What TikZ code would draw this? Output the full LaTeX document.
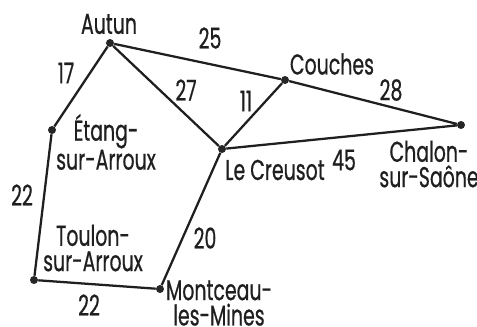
\documentclass[tikz,border=0pt]{standalone}
\usepackage{fontspec}
\setmainfont[FakeStretch=0.66,FakeBold=0.6]{Poppins}
\begin{document}
\begin{tikzpicture}[x=0.75pt,y=-0.75pt,
  road/.style={line width=1.7pt,draw=black!88},
  town/.style={circle,fill=black!85,inner sep=0pt,minimum size=6pt},
  lbl/.style={inner sep=0pt,align=center,font=\fontsize{21.5}{19}\selectfont,text=black!88},
  dist/.style={inner sep=0pt,font=\fontsize{21.5}{19}\selectfont,text=black!88}]
\useasboundingbox (0,0) rectangle (477,327);
% towns
\node[town] (autun) at (110,43) {};
\node[town] (couches) at (285,80) {};
\node[town] (chalon) at (461,125) {};
\node[town] (creusot) at (222,149) {};
\node[town] (etang) at (52,130) {};
\node[town] (toulon) at (34,280) {};
\node[town] (montceau) at (160,289) {};
% roads
\draw[road] (autun) -- (couches) -- (chalon) -- (creusot) -- (couches);
\draw[road] (autun) -- (creusot) -- (montceau) -- (toulon) -- (etang) -- (autun);
% town names
\node[lbl] (tautun) at (109,24) {Autun};
\node[lbl] (tcouches) at (332,64) {Couches};
\node[lbl] (tchalon) at (429,164) {Chalon-\\sur-Saône};
\node[lbl] (tcreusot) at (275,170) {Le Creusot};
\node[lbl] (tetang) at (106,142) {Étang-\\sur-Arroux};
\node[lbl] (ttoulon) at (93,248) {Toulon-\\sur-Arroux};
\node[lbl] (tmontceau) at (219,303) {Montceau-\\les-Mines};
% distances
\node[dist] (d25) at (210,38) {25};
\node[dist] (d17) at (66,73) {17};
\node[dist] (d27) at (186,90) {27};
\node[dist] (d11) at (246,101) {11};
\node[dist] (d28) at (391,90) {28};
\node[dist] (d45) at (344,160) {45};
\node[dist] (d22a) at (22,195) {22};
\node[dist] (d20) at (205,238) {20};
\node[dist] (d22b) at (89,305) {22};
\end{tikzpicture}
\end{document}
